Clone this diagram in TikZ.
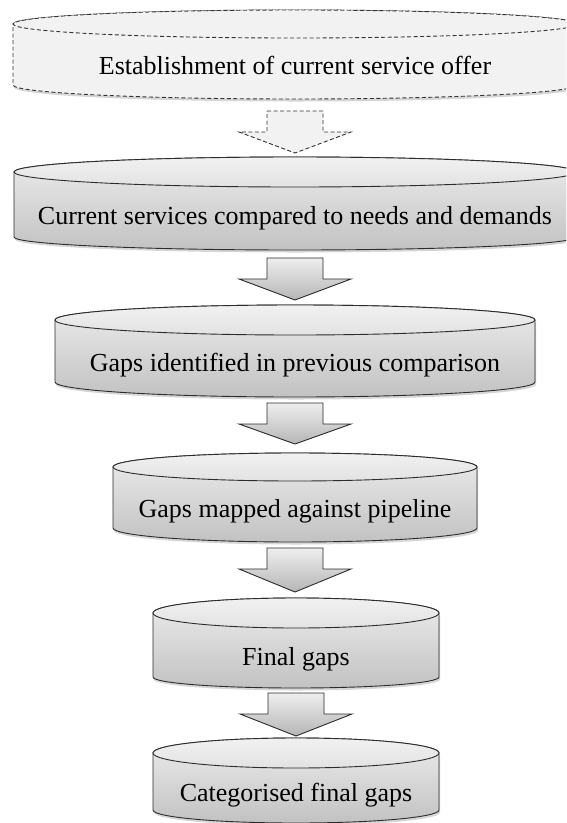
\documentclass[tikz,border=0pt]{standalone}
\usepackage{fontspec}
\setmainfont{Liberation Serif}
\usetikzlibrary{calc}

\definecolor{edge}{HTML}{2C2C2C}
\definecolor{dashedge}{HTML}{333333}
\definecolor{plainfill}{HTML}{F2F2F2}
\definecolor{bodytop}{HTML}{ECECEC}
\definecolor{bodybot}{HTML}{C2C2C2}
\definecolor{facetop}{HTML}{F1F1F1}
\definecolor{facebot}{HTML}{E2E2E2}
\definecolor{arrowtop}{HTML}{EEEEEE}
\definecolor{arrowbot}{HTML}{B6B6B6}

\tikzset{
  stagetext/.style={font=\fontsize{26}{30}\selectfont, inner sep=0pt, anchor=base, text=black},
  solidbody/.style={draw=edge, line width=0.9pt, top color=bodytop, bottom color=bodybot},
  solidface/.style={draw=edge, line width=0.9pt, top color=facetop, bottom color=facebot},
  dashbody/.style={draw=dashedge, line width=0.9pt, dash pattern=on 4pt off 2.5pt, fill=plainfill},
  dashface/.style={draw=dashedge, line width=0.9pt, dash pattern=on 4pt off 2.5pt, fill=plainfill},
  dropshade/.style={fill=black, opacity=0.16},
  solidarrow/.style={draw=edge, line width=0.9pt, top color=arrowtop, bottom color=arrowbot, line join=miter},
  dasharrow/.style={draw=dashedge, line width=0.9pt, dash pattern=on 4pt off 2.5pt, fill=plainfill, line join=miter},
}

% A drum-shaped stage: #1 style prefix, #2 name, #3 left, #4 right,
% #5 top-face centre y, #6 top-face radius, #7 base y, #8 base radius, #9 label
\newcommand{\drum}[9]{%
  \pgfmathsetmacro\dcx{(#3+#4)/2}%
  \pgfmathsetmacro\drx{(#4-#3)/2}%
  \pgfmathsetmacro\dbase{(#5+#7)/2+20}%
  \fill[dropshade,xshift=1pt,yshift=-2.5pt] (#3,-#5) -- (#3,-#7)
    arc[start angle=180,end angle=360,x radius=\drx pt,y radius=#8pt] -- (#4,-#5) -- cycle;
  \path[#1body] (#3,-#5) arc[start angle=180,end angle=0,x radius=\drx pt,y radius=#6pt]
    -- (#4,-#7) arc[start angle=0,end angle=-180,x radius=\drx pt,y radius=#8pt] -- cycle;
  \path[#1face] (\dcx,-#5) ellipse[x radius=\drx pt,y radius=#6pt];
  \node[stagetext] (#2) at (\dcx,-\dbase) {#9};
  \coordinate (#2-top) at (\dcx,{-(#5-#6)});
  \coordinate (#2-bot) at (\dcx,{-(#7+#8)});
}

% A block arrow from the base of one drum to the top of the next:
% #1 from, #2 to, #3 gap below the source, #4 gap above the target, #5 style
\newcommand{\flowarrow}[5]{%
  \fill[dropshade,xshift=1pt,yshift=-2.5pt] let \p1=(#1-bot),\p2=(#2-top),
      \n1={\y1-#3pt},\n2={\y2+#4pt},\n3={\y1-#3pt-21pt} in
    (\x1-28pt,\n1) -- (\x1+28pt,\n1) -- (\x1+28pt,\n3) -- (\x1+56pt,\n3)
    -- (\x1,\n2) -- (\x1-56pt,\n3) -- (\x1-28pt,\n3) -- cycle;
  \path[#5] let \p1=(#1-bot),\p2=(#2-top),
      \n1={\y1-#3pt},\n2={\y2+#4pt},\n3={\y1-#3pt-21pt} in
    (\x1-28pt,\n1) -- (\x1+28pt,\n1) -- (\x1+28pt,\n3) -- (\x1+56pt,\n3)
    -- (\x1,\n2) -- (\x1-56pt,\n3) -- (\x1-28pt,\n3) -- cycle;
}

\begin{document}
\begin{tikzpicture}[x=1pt,y=1pt]
  \clip (0,0) rectangle (566,-823);
  \fill[white] (0,0) rectangle (566,-823);

  \drum{dash}{offer}{13}{577}{24}{14}{85}{14}{Establishment of current service offer}
  \drum{solid}{compare}{14}{576}{172}{15}{237}{13}{Current services compared to needs and demands}
  \drum{solid}{gaps}{55}{535}{320}{15}{382}{15}{Gaps identified in previous comparison}
  \drum{solid}{pipeline}{113}{477}{467}{14}{528}{14}{Gaps mapped against pipeline}
  \drum{solid}{final}{153}{439}{613}{15}{677}{11}{Final gaps}
  \drum{solid}{categ}{153}{439}{753}{15}{810}{13}{Categorised final gaps}

  \flowarrow{offer}{compare}{12}{4}{dasharrow}
  \flowarrow{compare}{gaps}{8}{5}{solidarrow}
  \flowarrow{gaps}{pipeline}{6}{9}{solidarrow}
  \flowarrow{pipeline}{final}{6}{6}{solidarrow}
  \flowarrow{final}{categ}{5}{2}{solidarrow}
\end{tikzpicture}
\end{document}
